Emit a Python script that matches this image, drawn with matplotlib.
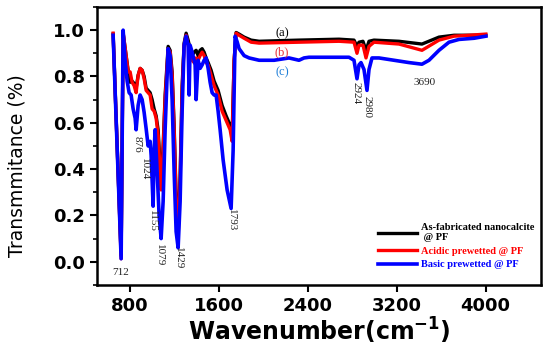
import matplotlib.pyplot as plt
from matplotlib.ticker import MultipleLocator

# (a) As-fabricated nanocalcite @ PF
wn_a = [647, 719, 737, 764, 782, 800, 818, 836, 854, 872, 890, 908, 926, 944, 962, 980,
        998, 1016, 1034, 1052, 1070, 1079, 1097, 1115, 1142, 1160, 1178, 1196, 1214, 1232,
        1250, 1268, 1286, 1304, 1322, 1340, 1358, 1376, 1394, 1412, 1430, 1448, 1466, 1484,
        1502, 1529, 1556, 1592, 1628, 1664, 1700, 1718, 1736, 1754, 1781, 1826, 1889, 1961,
        2320, 2680, 2815, 2842, 2860, 2896, 2923, 2950, 2995, 3220, 3427, 3580, 3715, 3850, 4002]
tr_a = [0.983, 0.026, 0.987, 0.89, 0.827, 0.775, 0.78, 0.77, 0.75, 0.805, 0.835, 0.827, 0.80,
        0.75, 0.74, 0.73, 0.70, 0.66, 0.63, 0.57, 0.415, 0.33, 0.50, 0.72, 0.93, 0.913, 0.82,
        0.59, 0.285, 0.134, 0.37, 0.76, 0.944, 0.987, 0.957, 0.92, 0.89, 0.905, 0.913, 0.89,
        0.913, 0.92, 0.905, 0.88, 0.86, 0.827, 0.78, 0.74, 0.675, 0.63, 0.59, 0.545, 0.87,
        0.99, 0.983, 0.97, 0.957, 0.952, 0.957, 0.961, 0.957, 0.93, 0.948, 0.952, 0.913,
        0.952, 0.957, 0.952, 0.94, 0.97, 0.978, 0.978, 0.978]

# (b) Acidic prewetted @ PF
wn_b = [647, 719, 737, 764, 782, 800, 818, 836, 854, 872, 890, 908, 926, 944, 962, 980,
        998, 1016, 1034, 1052, 1070, 1079, 1097, 1115, 1142, 1160, 1178, 1196, 1214, 1232,
        1250, 1268, 1286, 1304, 1322, 1340, 1358, 1376, 1394, 1412, 1430, 1448, 1466, 1484,
        1502, 1529, 1556, 1592, 1628, 1664, 1700, 1718, 1736, 1754, 1781, 1826, 1889, 1961,
        2320, 2680, 2815, 2842, 2860, 2896, 2923, 2950, 2995, 3220, 3427, 3580, 3715, 3850, 4002]
tr_b = [0.987, 0.013, 0.99, 0.89, 0.82, 0.82, 0.775, 0.76, 0.73, 0.805, 0.835, 0.827, 0.79,
        0.74, 0.73, 0.72, 0.66, 0.65, 0.62, 0.545, 0.39, 0.31, 0.48, 0.70, 0.92, 0.905, 0.805,
        0.57, 0.26, 0.11, 0.35, 0.74, 0.935, 0.978, 0.935, 0.905, 0.87, 0.86, 0.88, 0.87,
        0.89, 0.905, 0.89, 0.86, 0.85, 0.805, 0.76, 0.72, 0.65, 0.61, 0.57, 0.52, 0.87,
        0.987, 0.978, 0.965, 0.948, 0.944, 0.948, 0.952, 0.948, 0.90, 0.935, 0.935, 0.88,
        0.93, 0.948, 0.94, 0.913, 0.957, 0.974, 0.978, 0.983]

# (c) Basic prewetted @ PF
wn_c = [647, 719, 737, 755, 773, 791, 809, 827, 845, 854, 872, 890, 908, 926, 944, 962,
        980, 989, 1007, 1016, 1025, 1043, 1061, 1079, 1097, 1115, 1142, 1160, 1178, 1196,
        1214, 1232, 1250, 1268, 1286, 1304, 1322, 1331, 1340, 1358, 1376, 1385, 1394, 1412,
        1430, 1448, 1466, 1484, 1502, 1520, 1538, 1556, 1574, 1592, 1610, 1637, 1673, 1709,
        1727, 1745, 1763, 1781, 1826, 1871, 1961, 2096, 2230, 2320, 2365, 2410, 2590, 2770,
        2815, 2842, 2860, 2878, 2905, 2932, 2950, 2977, 3040, 3175, 3310, 3427, 3490, 3580,
        3670, 3760, 3895, 4002]
tr_c = [0.978, 0.013, 1.0, 0.87, 0.78, 0.73, 0.72, 0.66, 0.62, 0.57, 0.675, 0.72, 0.70,
        0.645, 0.575, 0.50, 0.52, 0.46, 0.24, 0.48, 0.57, 0.39, 0.20, 0.10, 0.26, 0.57, 0.92,
        0.89, 0.70, 0.39, 0.13, 0.06, 0.26, 0.65, 0.935, 0.974, 0.935, 0.72, 0.935, 0.905,
        0.87, 0.85, 0.70, 0.87, 0.835, 0.85, 0.87, 0.88, 0.835, 0.775, 0.73, 0.72, 0.72, 0.65,
        0.57, 0.44, 0.31, 0.23, 0.48, 0.974, 0.95, 0.92, 0.89, 0.88, 0.87, 0.87, 0.88, 0.87,
        0.88, 0.883, 0.883, 0.883, 0.87, 0.79, 0.85, 0.86, 0.83, 0.74, 0.83, 0.88, 0.88,
        0.87, 0.86, 0.853, 0.87, 0.913, 0.948, 0.96, 0.965, 0.974]

# peak labels: (text, wavenumber, transmittance, rotation)
peak_labels = [("712", 710, -0.048, 0), ("876", 863, 0.506, 270), ("1024", 926, 0.40, 270),
               ("1155", 998, 0.178, 270), ("1079", 1061, 0.03, 270), ("1429", 1232, 0.017, 270),
               ("1793", 1709, 0.18, 270), ("2924", 2832, 0.727, 270), ("2980", 2931, 0.667, 270),
               ("3690", 3452, 0.775, 0)]
series_tags = [("(a)", 2167, 0.987, "black"), ("(b)", 2167, 0.905, "#e8303a"),
               ("(c)", 2167, 0.818, "#1f7fd8")]

fig = plt.figure(figsize=(5.5, 3.5), dpi=100)
ax = fig.add_axes([0.176, 0.186, 0.808, 0.794])

ax.plot(wn_a, tr_a, color="black", lw=2.4, label="As-fabricated nanocalcite\n @ PF")
ax.plot(wn_b, tr_b, color="red", lw=2.4, label="Acidic prewetted @ PF")
ax.plot(wn_c, tr_c, color="blue", lw=2.6, label="Basic prewetted @ PF")

for txt, x, y, rot in peak_labels:
    ax.text(x, y, txt, rotation=rot, ha="center", va="center",
            family="Liberation Serif", fontsize=8, color="#222222")
for txt, x, y, c in series_tags:
    ax.text(x, y, txt, ha="center", va="center", family="Liberation Serif",
            fontsize=9, color=c)

ax.set_xlim(500, 4500)
ax.set_ylim(-0.1, 1.1)
ax.set_xticks([800, 1600, 2400, 3200, 4000])
ax.yaxis.set_major_locator(MultipleLocator(0.2))
ax.yaxis.set_minor_locator(MultipleLocator(0.1))
ax.tick_params(axis="both", which="major", length=5, width=1.5, labelsize=13)
ax.tick_params(axis="y", which="minor", length=3, width=1.2)
for lab in ax.get_xticklabels() + ax.get_yticklabels():
    lab.set_fontweight("bold")
for sp in ax.spines.values():
    sp.set_linewidth(1.8)

ax.set_xlabel("Wavenumber(cm$^{\\mathbf{-1}}$)", fontsize=17, fontweight="bold", labelpad=1)
ax.set_ylabel("Transmmitance (%)", fontsize=13.5)
ax.yaxis.set_label_coords(-0.158, 0.43)

ax.legend(loc="lower right", bbox_to_anchor=(1.0, 0.03), frameon=False,
          labelcolor="linecolor", handlelength=3.8, handletextpad=0.3, labelspacing=0.4,
          borderpad=0.2, prop={"family": "Liberation Serif", "weight": "bold", "size": 7.5})

fig.savefig("out.png", dpi=100)
